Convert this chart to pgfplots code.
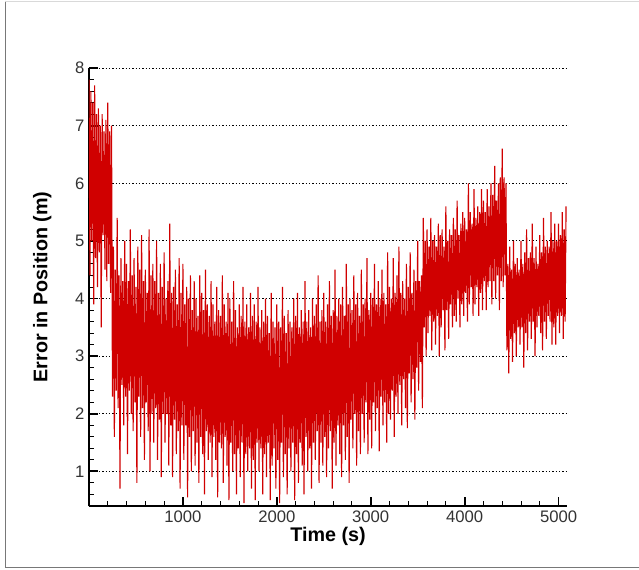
\documentclass[border=0pt]{standalone}
\usepackage{fontspec}
\setmainfont{Liberation Sans}
\usepackage{pgfplots}
\pgfplotsset{compat=1.18}
\definecolor{sig}{RGB}{208,0,0}
\definecolor{frm}{RGB}{120,120,120}

\begin{document}
\begin{tikzpicture}
\useasboundingbox (-66.75pt,-47.25pt) rectangle (412.5pt,379.5pt);
\draw[frm,line width=0.6pt] (-63pt,378.75pt) -- (-63pt,-45.75pt) -- (412.5pt,-45.75pt);
\draw[black!15,line width=0.6pt] (-63pt,378.75pt) -- (412.5pt,378.75pt);
\begin{axis}[
  scale only axis,
  width=358.5pt, height=328.5pt,
  xmin=0, xmax=5090,
  ymin=0.4, ymax=8,
  axis x line=bottom, axis y line=left,
  axis line style={-, line width=1.4pt, black},
  xtick={0,1000,...,5000},
  xticklabels={,1000,2000,3000,4000,5000},
  ytick={0,1,...,8},
  minor x tick num=4, minor y tick num=4,
  tick align=inside,
  major tick length=6.75pt, minor tick length=3.75pt,
  major tick style={line width=1.4pt, black},
  minor tick style={line width=0.7pt, black},
  ymajorgrids,
  major grid style={black, line width=0.6pt, dash pattern=on 1.1pt off 1.4pt},
  /pgf/number format/assume math mode=true,
  ticklabel style={font=\fontsize{12.5}{14}\selectfont, text=black!80},
  label style={font=\bfseries\fontsize{14.8}{17}\selectfont},
  xlabel={Time (s)},
  ylabel={Error in Position (m)},
  x label style={at={(axis description cs:0.5,-0.07)}, anchor=center},
  y label style={at={(axis description cs:-0.098,0.5)}, anchor=center},
]
\addplot[sig, line width=0.85pt, line join=bevel, mark=none] coordinates {
(0,7.8)(10,4.4)(20,7.6)(30,5.0)(40,7.4)(50,3.9)(60,7.7)(70,4.7)(80,7.2)(90,4.2)
(100,7.3)(110,4.8)(120,7.0)(130,3.5)(140,7.2)(150,5.1)(160,6.9)(170,4.5)(180,7.1)(190,4.3)
(200,7.4)(210,4.6)(220,6.9)(230,4.1)(240,7.0)(250,2.3)(260,4.9)(270,1.6)(280,4.5)(290,2.4)
(300,5.4)(310,2.1)(320,4.4)(330,0.7)(340,4.7)(350,2.5)(360,4.3)(370,1.8)(380,5.0)(390,2.3)
(400,4.6)(410,1.3)(420,4.3)(430,2.4)(440,5.2)(450,2.0)(460,4.4)(470,1.7)(480,4.7)(490,2.2)
(500,4.2)(510,0.8)(520,4.9)(530,2.3)(540,4.5)(550,1.6)(560,5.1)(570,2.1)(580,4.3)(590,1.2)
(600,4.5)(610,2.2)(620,4.1)(630,1.7)(640,5.2)(650,1.0)(660,4.4)(670,2.0)(680,4.6)(690,1.5)
(700,4.3)(710,2.1)(720,5.0)(730,1.2)(740,4.1)(750,1.9)(760,4.6)(770,0.9)(780,4.2)(790,2.0)
(800,4.8)(810,1.5)(820,4.0)(830,2.0)(840,4.3)(850,1.1)(860,5.3)(870,1.8)(880,4.1)(890,0.9)
(900,4.2)(910,1.9)(920,4.5)(930,1.3)(940,3.9)(950,1.7)(960,4.7)(970,0.7)(980,4.1)(990,1.8)
(1000,4.6)(1010,1.2)(1020,3.9)(1030,1.8)(1040,4.2)(1050,0.55)(1060,4.0)(1070,1.6)(1080,4.4)(1090,1.0)
(1100,3.8)(1110,1.7)(1120,4.3)(1130,1.1)(1140,4.0)(1150,1.5)(1160,3.7)(1170,0.8)(1180,4.4)(1190,1.6)
(1200,4.1)(1210,1.3)(1220,3.8)(1230,0.6)(1240,4.5)(1250,1.7)(1260,3.9)(1270,1.2)(1280,3.7)(1290,1.5)
(1300,4.3)(1310,0.9)(1320,3.9)(1330,1.6)(1340,3.6)(1350,1.2)(1360,4.2)(1370,0.55)(1380,3.8)(1390,1.5)
(1400,3.7)(1410,1.4)(1420,4.4)(1430,0.8)(1440,3.9)(1450,1.6)(1460,3.6)(1470,1.1)(1480,4.1)(1490,0.5)
(1500,4.0)(1510,1.5)(1520,3.6)(1530,1.0)(1540,4.3)(1550,1.3)(1560,3.8)(1570,0.6)(1580,3.5)(1590,1.4)
(1600,3.9)(1610,0.9)(1620,3.7)(1630,1.5)(1640,4.2)(1650,0.45)(1660,3.6)(1670,1.3)(1680,3.9)(1690,1.0)
(1700,3.5)(1710,1.4)(1720,4.1)(1730,0.7)(1740,3.7)(1750,1.2)(1760,3.9)(1770,0.5)(1780,3.6)(1790,1.5)
(1800,4.2)(1810,1.0)(1820,3.5)(1830,1.4)(1840,3.8)(1850,0.6)(1860,3.6)(1870,1.3)(1880,4.0)(1890,0.9)
(1900,3.7)(1910,1.5)(1920,3.4)(1930,0.5)(1940,4.1)(1950,1.1)(1960,3.6)(1970,1.4)(1980,3.5)(1990,0.7)
(2000,3.9)(2010,1.2)(2020,3.6)(2030,0.45)(2040,3.5)(2050,1.5)(2060,4.2)(2070,0.9)(2080,3.7)(2090,1.3)
(2100,3.4)(2110,0.6)(2120,3.8)(2130,1.4)(2140,3.6)(2150,1.0)(2160,3.5)(2170,1.5)(2180,4.0)(2190,0.5)
(2200,3.7)(2210,1.3)(2220,4.1)(2230,0.8)(2240,3.5)(2250,1.5)(2260,3.8)(2270,1.1)(2280,3.6)(2290,0.6)
(2300,4.3)(2310,1.6)(2320,3.6)(2330,1.0)(2340,3.8)(2350,1.4)(2360,3.5)(2370,0.7)(2380,4.0)(2390,1.5)
(2400,3.7)(2410,1.2)(2420,3.9)(2430,1.7)(2440,4.4)(2450,0.8)(2460,3.6)(2470,1.5)(2480,3.8)(2490,1.1)
(2500,4.1)(2510,1.6)(2520,3.6)(2530,0.9)(2540,3.9)(2550,1.4)(2560,4.3)(2570,1.7)(2580,3.7)(2590,0.7)
(2600,3.8)(2610,1.5)(2620,4.5)(2630,1.1)(2640,3.7)(2650,1.8)(2660,4.0)(2670,1.3)(2680,3.9)(2690,0.9)
(2700,4.2)(2710,1.8)(2720,3.7)(2730,1.2)(2740,4.6)(2750,1.6)(2760,3.9)(2770,0.8)(2780,4.0)(2790,1.9)
(2800,3.8)(2810,1.4)(2820,4.4)(2830,2.0)(2840,3.9)(2850,1.1)(2860,4.1)(2870,1.7)(2880,3.7)(2890,1.3)
(2900,4.5)(2910,2.0)(2920,3.9)(2930,1.5)(2940,4.0)(2950,2.2)(2960,4.7)(2970,1.3)(2980,3.8)(2990,1.9)
(3000,4.1)(3010,1.4)(3020,4.0)(3030,2.2)(3040,4.6)(3050,1.7)(3060,3.9)(3070,2.1)(3080,4.3)(3090,1.35)
(3100,4.0)(3110,2.3)(3120,4.5)(3130,1.8)(3140,4.1)(3150,2.2)(3160,3.9)(3170,1.5)(3180,4.8)(3190,2.0)
(3200,4.2)(3210,1.9)(3220,4.0)(3230,2.4)(3240,4.7)(3250,1.6)(3260,4.1)(3270,2.3)(3280,4.4)(3290,2.0)
(3300,4.9)(3310,2.5)(3320,4.1)(3330,1.8)(3340,4.3)(3350,2.6)(3360,4.0)(3370,2.1)(3380,4.6)(3390,1.75)
(3400,4.2)(3410,2.7)(3420,4.8)(3430,2.2)(3440,4.1)(3450,2.6)(3460,4.5)(3470,1.9)(3480,4.3)(3490,2.8)
(3500,5.0)(3510,2.4)(3520,4.3)(3530,2.9)(3540,4.4)(3550,2.1)(3560,5.4)(3570,3.5)(3580,5.0)(3590,3.0)
(3600,5.2)(3610,3.4)(3620,4.9)(3630,3.7)(3640,5.4)(3650,3.1)(3660,5.0)(3670,3.6)(3680,5.1)(3690,3.2)
(3700,4.9)(3710,3.7)(3720,5.3)(3730,3.0)(3740,5.1)(3750,3.5)(3760,5.2)(3770,3.8)(3780,4.9)(3790,3.1)
(3800,5.6)(3810,3.8)(3820,5.0)(3830,3.3)(3840,5.2)(3850,3.9)(3860,5.1)(3870,3.5)(3880,5.4)(3890,3.7)
(3900,5.2)(3910,3.6)(3920,5.7)(3930,4.0)(3940,5.1)(3950,3.5)(3960,5.3)(3970,3.9)(3980,5.5)(3990,3.7)
(4000,5.4)(4010,4.1)(4020,5.2)(4030,3.6)(4040,6.0)(4050,3.9)(4060,5.5)(4070,4.2)(4080,5.3)(4090,3.7)
(4100,5.9)(4110,3.9)(4120,5.4)(4130,4.2)(4140,5.6)(4150,3.7)(4160,5.5)(4170,4.1)(4180,5.9)(4190,3.8)
(4200,5.7)(4210,4.3)(4220,5.5)(4230,3.8)(4240,5.9)(4250,4.2)(4260,5.6)(4270,4.3)(4280,6.0)(4290,3.9)
(4300,5.8)(4310,4.3)(4320,6.3)(4330,4.0)(4340,5.7)(4350,4.4)(4360,6.0)(4370,3.8)(4380,6.1)(4390,4.3)
(4400,6.6)(4410,4.2)(4420,6.1)(4430,4.4)(4440,6.0)(4450,3.1)(4460,4.6)(4470,2.7)(4480,4.9)(4490,3.3)
(4500,4.5)(4510,2.9)(4520,5.0)(4530,3.4)(4540,4.6)(4550,3.0)(4560,4.7)(4570,3.5)(4580,4.5)(4590,3.2)
(4600,5.0)(4610,3.5)(4620,4.6)(4630,2.8)(4640,4.8)(4650,3.4)(4660,5.2)(4670,3.1)(4680,4.7)(4690,3.6)
(4700,4.8)(4710,3.3)(4720,5.3)(4730,3.6)(4740,4.7)(4750,3.0)(4760,4.9)(4770,3.5)(4780,4.6)(4790,3.7)
(4800,5.1)(4810,3.4)(4820,4.8)(4830,3.1)(4840,5.4)(4850,3.6)(4860,4.9)(4870,3.3)(4880,5.0)(4890,3.7)
(4900,4.9)(4910,3.6)(4920,5.5)(4930,3.2)(4940,5.0)(4950,3.5)(4960,5.3)(4970,3.2)(4980,5.0)(4990,3.7)
(5000,5.3)(5010,3.4)(5020,5.1)(5030,3.7)(5040,5.5)(5050,3.3)(5060,5.2)(5070,3.6)(5080,5.6)
};
\end{axis}
\end{tikzpicture}
\end{document}
